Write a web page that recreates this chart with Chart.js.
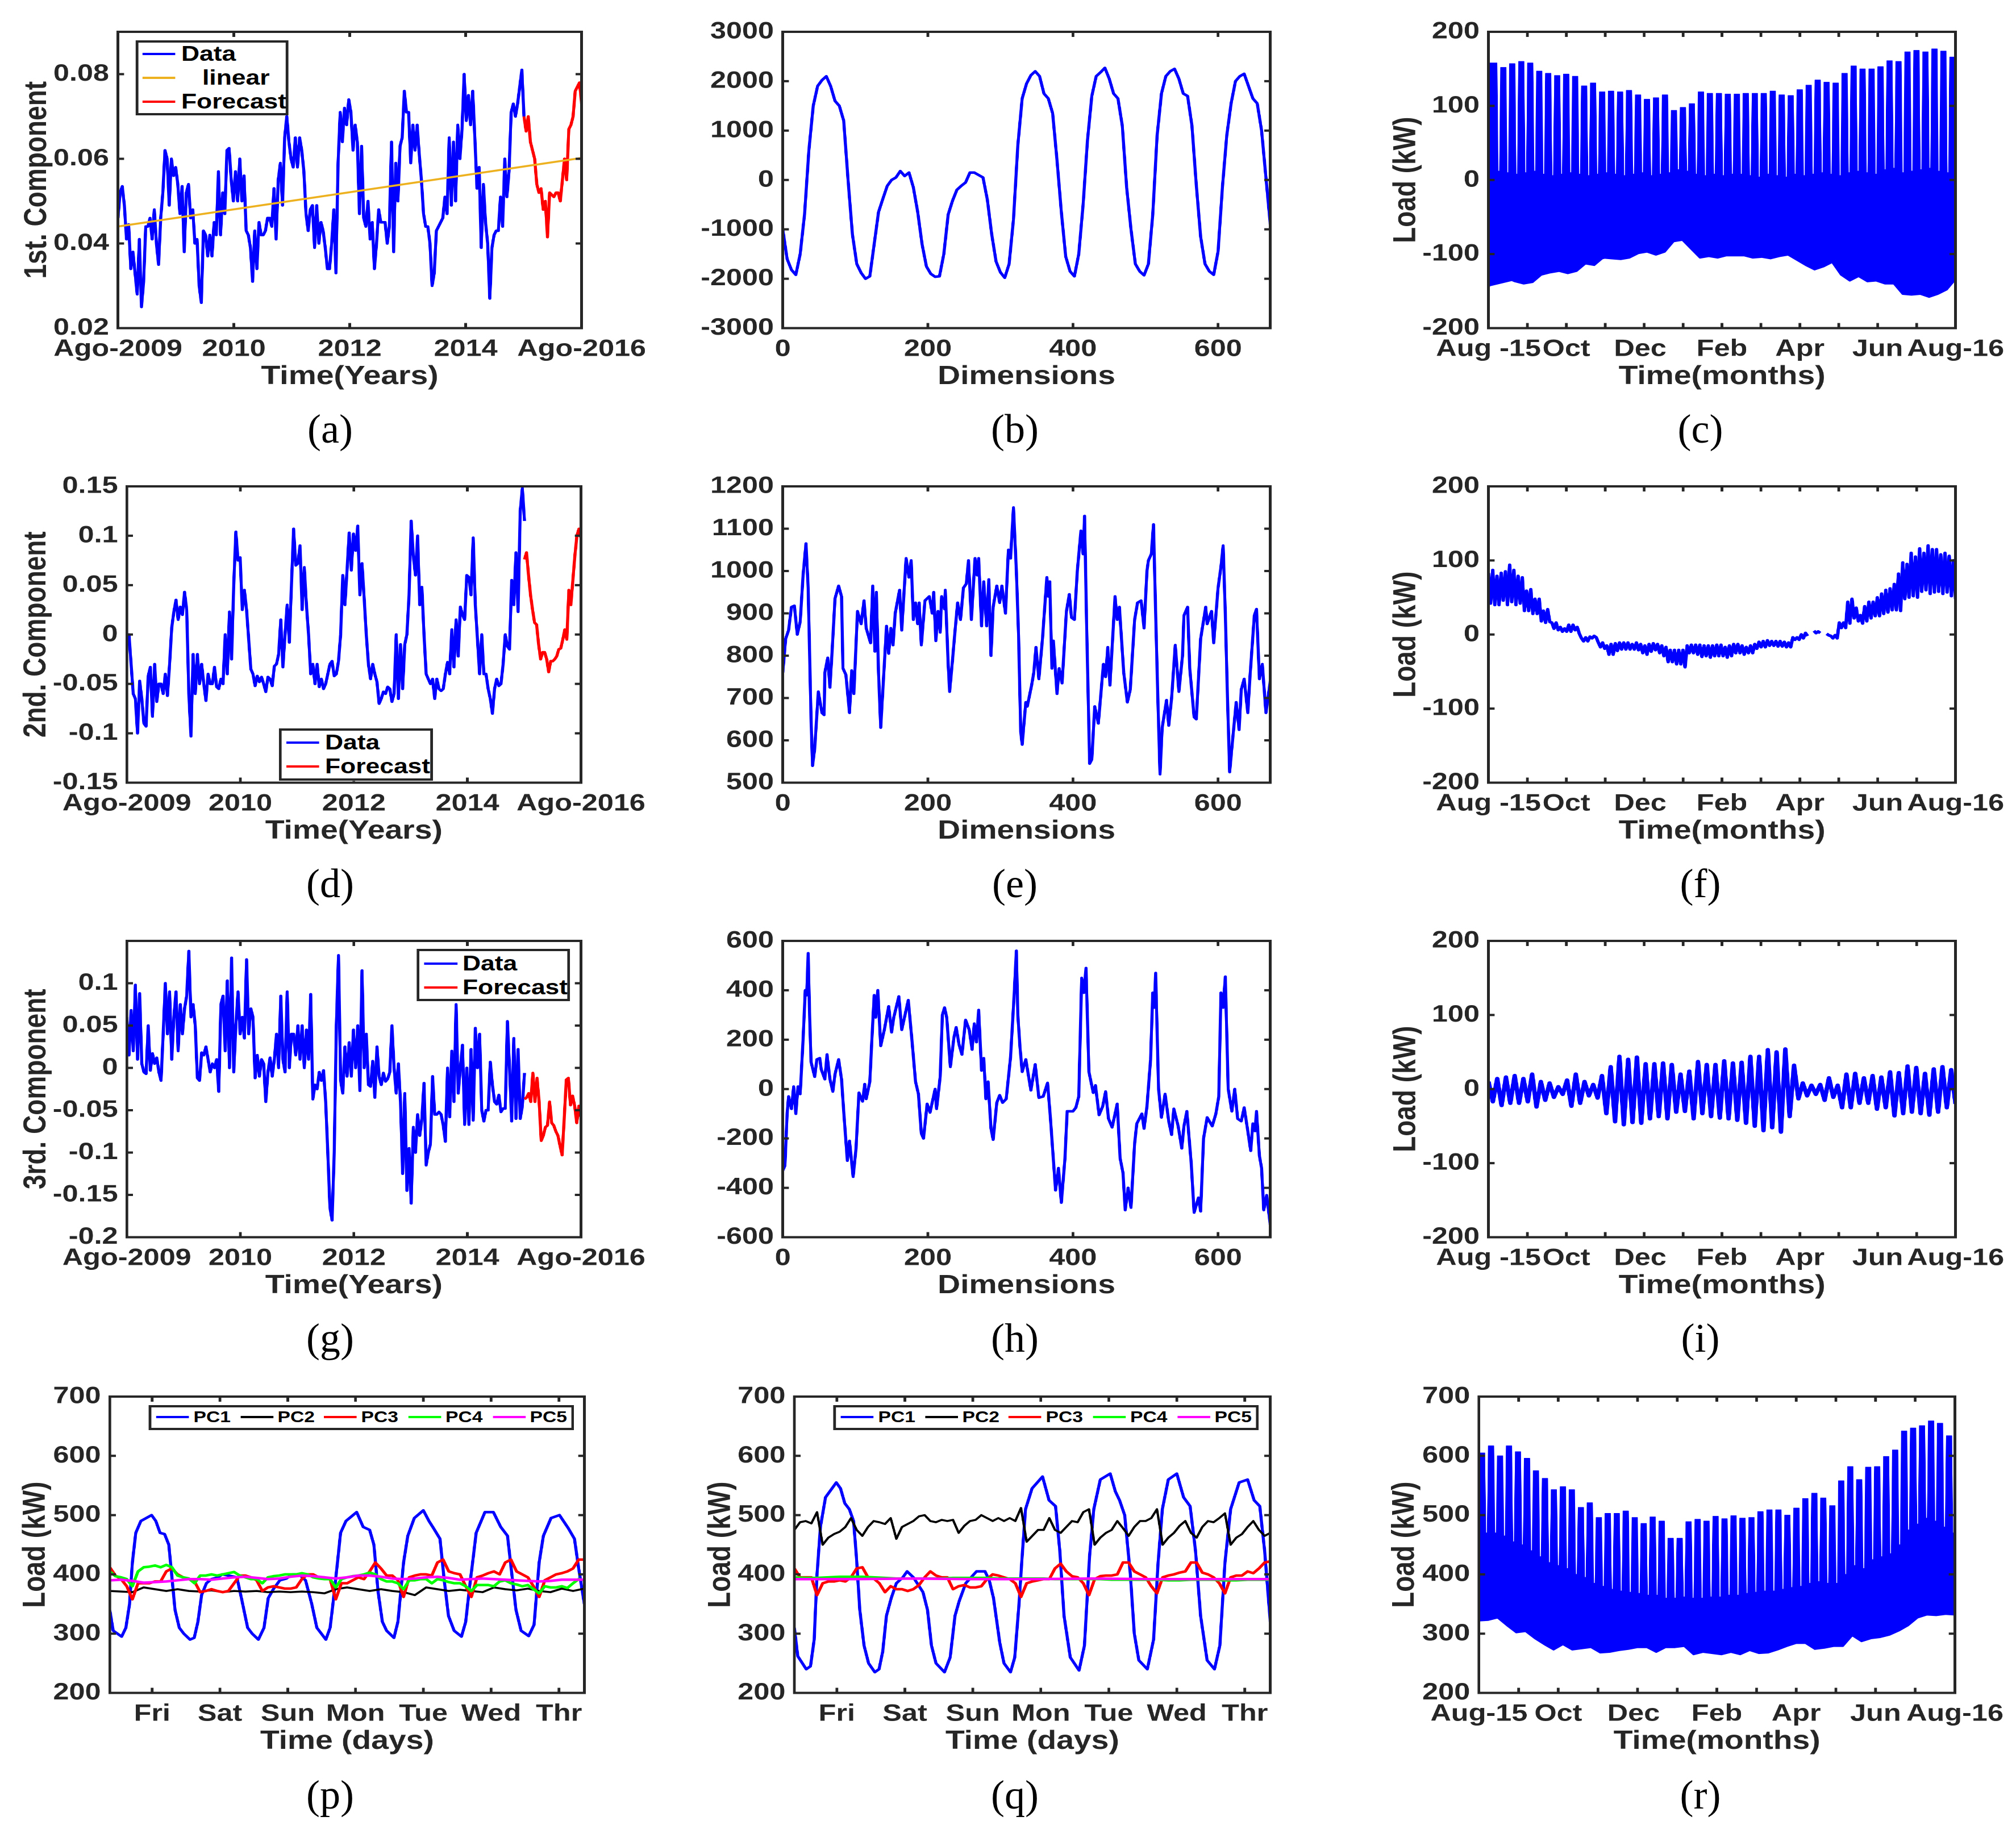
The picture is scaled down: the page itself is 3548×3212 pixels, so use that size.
<!doctype html>
<html lang="en">
<head>
<meta charset="UTF-8" />
<title>Load components</title>
<script src="https://cdn.jsdelivr.net/npm/chart.js"></script>
<style>
  body { margin: 0; background: #fff; overflow: hidden; }
  #stretch { position: absolute; left: 0; top: 0; width: 2957px; height: 3212px; transform: scaleX(1.2); transform-origin: 0 0; }
  canvas { position: absolute; }
  .legend { position: absolute; border: 4px solid #262626; box-sizing: border-box; background: #fff; z-index: 1; }
  .swatch { position: absolute; height: 4px; z-index: 2; }
  .entry { position: absolute; z-index: 2; font: bold 37px "Liberation Sans", sans-serif; color: #000; white-space: pre; transform: translateY(-50%); }
  .pc { font-size: 28px; }
  .caption { position: absolute; font: 72px "Liberation Serif", serif; color: #000; transform: translate(-50%, -50%); }
</style>
</head>
<body>
<div id="stretch"></div>
<script>
// axis labels
const yearTicks = [0, 1.75, 3.5, 5.25, 7];
const yearLabels = ["Ago-2009", "2010", "2012", "2014", "Ago-2016"];
const monthTicks = [0, 1, 2, 3, 4, 5, 6, 7, 8, 9, 10, 11, 12];
const monthLabels = ["Aug -15", "", "Oct", "", "Dec ", "", "Feb", "", "Apr", "", "Jun", "", "Aug-16"];
const monthLabelsR = ["Aug-15", "", "Oct", "", "Dec ", "", "Feb", "", "Apr", "", "Jun", "", "Aug-16"];
const dimTicks = [0, 200, 400, 600];
const dayTicks = [15, 39, 63, 87, 111, 135, 159];
const dayLabels = ["Fri", "Sat", "Sun", "Mon", "Tue", "Wed", "Thr"];

// (a) 1st component
const compOneData = [
  .046,.052,.0535,.049,.041,.0445,.034,.038,.033,.028,.041,.025,.031,.044,.044,.046,.041,.048,.040,.035,
  .046,.052,.062,.060,.049,.060,.056,.058,.054,.047,.0535,.038,.052,.054,.046,.048,.040,.041,.030,.026,
  .043,.042,.037,.042,.037,.045,.042,.057,.042,.052,.047,.062,.0625,.055,.050,.057,.050,.060,.050,.056,
  .043,.042,.039,.031,.043,.034,.045,.042,.042,.043,.046,.046,.044,.053,.041,.055,.059,.049,.065,.070,
  .064,.060,.058,.065,.058,.065,.062,.057,.047,.043,.048,.049,.039,.049,.040,.045,.043,.039,.034,.034,
  .040,.048,.033,.059,.071,.064,.072,.068,.074,.071,.062,.068,.064,.047,.063,.046,.044,.050,.041,.045,
  .034,.040,.048,.045,.045,.045,.040,.044,.064,.038,.059,.050,.063,.065,.076,.071,.071,.059,.068,.062,
  .068,.061,.055,.047,.044,.044,.040,.030,.033,.043,.044,.045,.046,.051,.047,.065,.049,.064,.050,.068,
  .060,.067,.080,.069,.075,.068,.076,.065,.053,.058,.039,.054,.045,.040,.027,.039,.042,.043,.043,.051,
  .044,.060,.051,.057,.071,.073,.070,.073,.077,.081,.070];
const compOneForecast = [.070,.0665,.070,.064,.062,.060,.054,.052,.053,.048,.050,.0415,.052,.0515,.051,.052,.052,.050,.055,.060,.055,.067,.068,.070,.076,.077,.078,.073];
const compOneTrend = [.044, .0602];

// (d) 2nd component
const compTwoData = [
  -.01,0,-.03,-.06,-.065,-.10,-.047,-.065,-.09,-.093,-.042,-.033,-.083,-.03,-.068,-.05,-.05,-.06,-.04,-.062,
  -.03,.007,.023,.035,.015,.028,.02,.043,.025,-.06,-.103,-.02,-.06,-.02,-.05,-.03,-.05,-.067,-.04,-.05,
  -.05,-.033,-.053,-.055,-.045,-.05,0,-.04,.023,-.025,.05,.104,.075,.078,.025,.045,.025,-.005,-.035,-.04,
  -.052,-.042,-.048,-.043,-.05,-.058,-.043,-.045,-.052,-.032,-.03,-.02,.015,-.033,0,.03,-.008,.05,.107,.07,
  .072,.09,.025,.068,.03,0,-.04,-.03,-.05,-.03,-.053,-.045,-.055,-.05,-.04,-.03,-.027,-.042,-.04,-.027,
  0,.06,.03,.065,.103,.065,.102,.085,.11,.04,.072,.037,0,-.03,-.045,-.03,-.04,-.048,-.07,-.065,
  -.058,-.06,-.053,-.055,-.068,-.06,0,-.065,-.01,-.055,-.01,0,.04,.115,.08,.06,.1,.03,.048,0,
  -.04,-.045,-.05,-.045,-.065,-.045,-.055,-.057,-.055,-.04,-.028,-.04,.005,-.033,.015,-.022,.028,.02,.015,.06,
  .058,.04,.098,.03,-.005,-.04,0,-.04,-.04,-.055,-.065,-.08,-.055,-.045,-.052,-.05,-.03,0,-.012,-.015,
  .055,.03,.083,.023,.125,.148,.115];
const compTwoForecast = [.076,.083,.06,.04,.025,.012,.01,-.01,-.025,-.018,-.018,-.025,-.038,-.027,-.027,-.025,-.022,-.015,-.014,-.005,.005,-.005,.045,.03,.055,.08,.1,.107,.098];

// (g) 3rd component
const compThreeData = [
  .06,.015,.068,.02,.098,.01,.088,.005,-.005,-.007,.05,-.003,.017,.005,.012,-.005,-.015,.04,.10,.04,
  .09,.01,.06,.09,.02,.075,.04,.07,.085,.138,.06,.075,.05,-.012,-.015,.018,.015,.025,.01,-.005,
  .005,0,.01,-.028,.075,.085,.02,.103,0,.13,-.005,.05,.09,.04,.06,.035,.128,.04,.07,.06,
  -.012,.015,-.01,.01,.005,-.04,-.005,.012,-.01,.01,.04,0,.085,.01,-.005,.09,0,.04,.04,.015,
  .05,.01,.05,0,.045,.01,.087,-.037,-.02,-.025,-.005,-.015,-.003,-.04,-.10,-.165,-.18,-.10,.05,.133,
  -.015,-.03,.025,-.01,.03,-.01,.045,0,.05,-.027,.115,0,.04,-.02,-.022,.008,-.035,.025,-.01,-.02,
  -.006,-.016,-.013,-.005,.05,0,-.03,.005,-.04,-.125,-.03,-.145,-.095,-.16,-.07,-.10,-.055,-.08,-.06,-.018,
  -.115,-.10,-.09,-.01,-.055,-.055,-.052,-.055,-.068,-.087,0,-.058,.02,-.04,.075,-.03,0,.027,-.067,0,
  -.067,.022,-.062,.047,0,.04,-.05,-.063,-.05,-.05,.007,-.02,-.04,-.043,-.032,-.052,-.048,-.048,.055,0,
  -.063,.035,-.06,.022,-.06,-.045,-.006];
const compThreeForecast = [-.037,-.035,-.03,-.04,-.006,-.04,-.012,-.04,-.086,-.08,-.07,-.068,-.04,-.065,-.068,-.075,-.08,-.092,-.103,-.06,-.014,-.012,-.044,-.033,-.045,-.065,-.045,-.058];

// (b) first loading vector
const loadOneDims = [];
for (let d = 0; d <= 672; d += 6) loadOneDims.push(d);
const loadOneValues = [-1000,-1600,-1820,-1920,-1500,-700,600,1500,1900,2020,2100,1900,1600,1500,1200,0,-1100,-1700,-1880,-2000,-1950,-1300,-650,-380,-120,0,50,180,80,150,-150,-650,-1300,-1750,-1900,-1960,-1950,-1500,-700,-420,-200,-120,-50,150,150,100,50,-400,-1100,-1650,-1870,-1980,-1700,-800,700,1650,1950,2120,2200,2100,1750,1650,1350,400,-650,-1550,-1850,-1950,-1500,-500,800,1700,2100,2180,2270,2050,1750,1650,1100,-150,-1000,-1700,-1850,-1930,-1700,-700,900,1750,2100,2200,2250,2050,1750,1700,1100,-100,-1150,-1700,-1850,-1920,-1450,-150,900,1550,2000,2100,2150,1900,1650,1550,1000,50,-900];

// (e) second loading vector
const loadTwoDims = [0,4,8,12,16,20,24,28,32,35,39,41,44,49,54,57,58,62,65,68,72,77,81,83,87,92,95,98,103,108,112,115,121,124,127,129,132,135,139,143,146,149,152,155,161,164,170,174,177,180,183,186,188,191,196,202,206,208,211,214,217,219,223,224,228,230,234,237,241,245,249,253,256,260,265,268,270,274,277,281,284,287,290,295,299,302,307,311,314,318,322,325,328,330,335,337,343,346,349,353,358,364,366,368,371,373,378,381,385,391,395,398,402,406,411,414,416,419,423,426,430,435,442,445,448,451,458,461,464,470,475,479,485,489,494,498,502,504,508,511,514,517,520,523,529,532,536,541,546,551,553,558,561,567,570,576,583,585,591,594,600,604,607,610,613,616,620,625,629,632,636,641,644,650,653,657,661,666,672];
const loadTwoValues = [760,840,860,915,918,850,880,990,1065,960,650,540,580,715,665,660,760,795,725,810,935,965,940,770,755,665,765,710,905,875,930,865,830,965,810,950,760,630,750,870,805,865,825,900,955,860,1030,985,1025,885,925,875,925,825,930,940,900,950,835,905,855,940,910,955,780,715,790,850,925,885,960,970,1025,885,1030,990,1030,870,975,870,980,800,915,965,925,965,900,1050,1030,1150,1000,850,620,590,690,680,730,760,820,745,840,985,940,975,770,835,710,770,735,905,945,890,885,1000,1095,1040,1130,860,545,555,680,640,780,750,820,730,940,885,915,760,690,720,885,925,930,865,1000,1025,1040,1110,900,700,520,630,695,635,700,825,715,800,895,915,770,655,650,840,915,875,905,830,960,1010,1060,900,700,525,600,690,625,720,745,665,750,895,910,745,780,665,740];

// (h) third loading vector
const loadThreeDims = [0,3,6,8,12,15,18,21,24,28,31,33,35,37,39,44,47,51,53,58,61,65,69,72,77,81,84,89,92,97,101,105,110,113,115,120,123,126,128,131,135,140,146,150,153,160,164,170,173,178,183,187,191,194,199,203,210,212,217,220,223,226,231,236,239,243,247,252,257,261,264,267,270,274,277,280,283,287,290,295,299,303,308,314,319,322,324,327,330,335,342,348,353,359,365,369,376,380,384,389,392,400,404,408,412,415,418,422,428,431,436,441,445,449,454,461,465,469,472,476,480,485,488,495,498,502,507,510,512,514,518,522,527,532,536,539,545,550,553,557,563,567,573,576,580,585,592,597,601,604,607,610,614,619,623,627,632,636,641,645,648,651,653,657,660,663,667,672];
const loadThreeValues = [-330,-310,-100,-30,-80,10,-100,10,-20,200,400,380,550,300,110,50,120,125,80,40,140,40,-10,60,120,40,-90,-290,-210,-355,-240,-15,-50,20,-40,30,210,380,290,400,175,240,335,230,290,375,240,320,360,200,30,-20,-180,-200,-60,-95,0,-80,50,300,330,290,90,210,250,180,140,280,240,160,265,190,320,75,125,-40,30,-160,-205,-55,-25,-55,-40,130,385,560,300,170,70,120,-5,100,-35,-30,25,-120,-410,-320,-460,-280,-90,-90,-75,-30,450,390,490,70,-15,15,-105,-70,-10,-120,-155,-60,-280,-340,-490,-400,-480,-220,-140,-100,-160,-70,120,390,330,470,0,-115,-20,-130,-185,-80,-150,-240,-150,-90,-300,-500,-440,-495,-200,-115,-150,-100,-30,390,330,455,0,-90,0,-120,-130,-75,-170,-250,-140,-170,-90,-270,-320,-490,-430,-550];

// (c) first reconstructed load, stripe tops, slit bottoms and lower edge
const reconOnePeaks = [158,152,157,160,158,147,144,141,143,140,127,131,119,120,119,121,115,109,111,115,94,98,103,119,117,117,116,116,117,117,117,120,115,114,122,128,135,132,131,144,154,150,150,153,161,160,173,175,173,177,174,166];
const reconOneSlits = [12,10,8,10,12,8,6,8,10,8,6,8,10,8,6,8,10,6,8,10,14,12,8,6,8,6,8,8,6,4,8,6,4,8,6,8,10,8,6,10,12,10,8,14,16,10,12,14,16,12,10,8];
const reconOneLows = [-144,-133,-132,-137,-140,-138,-128,-125,-123,-126,-123,-113,-115,-105,-106,-107,-105,-99,-97,-101,-97,-83,-81,-93,-105,-103,-105,-102,-102,-102,-105,-104,-106,-103,-101,-108,-115,-121,-117,-111,-128,-136,-130,-137,-136,-140,-140,-154,-155,-154,-158,-154,-148,-134];

// (f) second reconstructed load, band edges
const reconTwoHigh = [83,87,79,83,85,94,87,79,77,59,61,48,48,32,34,16,16,10,8,13,13,10,-5,-4,-3,-2,-11,-11,-15,-13,-12,-11,-11,-11,-13,-11,-13,-15,-13,-12,-13,-15,-17,-21,-21,-21,-21,-15,-14,-14,-14,-15,-15,-15,-14,-14,-17,-15,-13,-13,-15,-17,-15,-13,-10,-9,-8,-9,-9,-9,-10,-11,-4,-4,0,2,null,5,4,null,1,-2,-1,16,16,44,48,36,26,38,44,44,50,55,60,62,68,82,97,95,110,105,116,110,120,115,115,108,110,106,100];
const reconTwoLow = [42,40,40,46,40,44,40,42,32,32,28,28,18,16,17,8,6,4,4,4,6,1,-9,-9,-5,-4,-17,-19,-27,-27,-22,-20,-20,-20,-20,-21,-25,-27,-23,-21,-25,-29,-37,-37,-40,-40,-44,-25,-25,-27,-30,-29,-31,-29,-29,-29,-31,-29,-25,-25,-27,-25,-25,-19,-17,-17,-15,-15,-16,-16,-17,-17,-7,-7,-5,-2,null,2,2,null,-1,-5,-5,9,9,15,22,18,15,18,22,25,25,28,30,33,33,32,48,50,52,50,58,60,55,57,58,55,57,52,48];

// (i) third reconstructed load, stripe tops and bottoms
const reconThreeHigh = [10,14,16,18,14,20,10,8,3,12,20,10,6,18,30,44,40,43,34,34,35,33,20,24,37,33,33,38,35,36,44,44,53,50,54,32,8,5,6,15,5,20,21,15,18,16,23,22,31,29,21,27,30,26];
const reconThreeLow = [-17,-22,-19,-19,-17,-24,-15,-11,-7,-23,-19,-9,-12,-33,-44,-48,-45,-46,-40,-37,-40,-31,-30,-40,-33,-37,-39,-40,-42,-46,-50,-56,-52,-58,-37,-13,-9,-7,-15,-11,-25,-25,-19,-19,-27,-25,-36,-33,-31,-33,-35,-31,-25,-20];

// (p) principal components, raw load
const pcHoursP = [0,1.2,4.2,5.7,7,8,9.2,11,14.8,16.3,17.8,19.4,20.9,21.9,23.1,24.6,26.2,28.4,29.9,31.2,32.5,34.2,36,38.3,39.8,42,45,46.6,48.8,50.4,52.6,54.6,56.1,57.9,60.2,62.5,64.7,67,69.3,71.5,73.3,74.9,76.5,78,79,80.6,81.7,83.6,87.4,89.7,92,93.5,95,96.5,98,100.6,102,104,105.5,107.8,111,113,114.6,116.9,118.4,119.9,121.9,124.5,126,127.4,128.7,129.7,132.8,135.8,138.4,140.8,142.1,143.8,145.6,148.3,150.2,152,153.5,156.2,159.2,162.3,164.5,166,168];
const pc1P = [340,305,295,310,350,420,470,490,500,490,470,468,450,400,340,310,300,290,293,320,365,385,392,395,400,398,395,360,310,300,290,310,360,375,390,393,400,400,390,350,310,300,290,310,350,420,470,490,505,480,475,450,370,320,305,293,320,420,465,495,508,490,478,460,390,330,305,295,320,380,430,470,505,505,480,465,410,340,305,296,315,420,465,495,500,478,460,410,350];
const pc2P = [372,371,370,378,375,372,375,372,371,373,370,372,371,372,370,371,370,371,370,368,375,378,375,372,375,372,370,365,378,375,372,374,372,370,378,375,373,376,372,370,376,372,376];
const pc3P = [412,398,392,380,358,385,385,385,388,388,405,410,400,395,392,388,370,372,375,372,370,372,385,398,398,395,390,372,378,380,378,376,376,378,392,400,400,395,395,392,358,385,385,390,395,392,405,420,410,398,398,390,362,395,398,400,400,398,420,425,405,402,400,380,362,395,398,402,405,400,420,425,405,400,395,380,362,390,395,400,402,405,410,425,425];
const pc4P = [405,397,395,392,380,405,412,413,415,412,416,412,398,395,393,385,398,398,400,398,400,402,404,398,395,392,392,385,395,397,398,400,400,400,402,400,395,393,392,392,378,392,395,397,398,400,403,400,392,388,388,385,375,390,390,392,392,385,392,390,387,385,385,380,372,382,382,382,380,388,390,385,383,380,382,375,368,380,378,378,380,377,385,392,390];
const pc5P = [390,391,389,386,387,388,390,392,392,391,393,395,396,394,392,393,396,398,397,395,393,395,398,398,396,393,392,393,395,396,394,391,392,393,392,391,390,389,388,389,391,391,391];

// (q) principal components, cleaned load
const pcHoursQ = [0,1.2,4.2,5.7,7,8,9.2,11,14.8,16.3,17.8,19.4,20.9,21.9,23.1,24.6,26.2,28.4,29.9,31.2,32.5,34.2,36,38.3,39.8,42,45.4,47,48.4,50,53,55,56.7,58.2,60.5,64.3,67.3,68.8,70.3,72.5,74,76.3,77.8,79.3,80.4,81.6,83.9,87.6,89.9,92.2,93.7,95.2,97.4,100.5,102.4,104.2,105.7,108,111.5,113.3,114.8,116.6,118.6,120,121.6,124.6,126.8,128.4,129.9,132,135,137.4,139.7,141.6,143.4,145.7,148.3,150.2,152,154,157,160,162.3,164.3,166,168];
const pc1Q = [310,262,240,245,290,400,480,530,555,545,520,510,490,430,340,280,250,235,240,270,330,360,385,395,405,395,370,340,280,250,235,260,330,355,385,405,405,390,360,285,250,235,260,350,430,510,545,565,525,515,440,330,260,238,280,430,510,560,570,540,525,500,400,300,255,240,290,420,510,560,570,530,515,440,330,255,240,280,420,510,555,560,525,515,440,320];
const pc2Q = [475,488,490,486,505,450,462,468,472,480,495,475,465,480,490,488,485,495,460,480,485,490,498,500,490,488,492,490,492,470,482,490,492,500,495,490,495,490,495,490,512,455,465,475,475,495,475,470,480,490,488,505,510,450,462,470,475,490,478,465,480,490,490,495,510,450,462,470,482,490,470,462,480,490,488,495,503,450,462,468,480,490,475,465,470];
const pc3Q = [410,395,395,395,365,385,388,388,390,388,395,410,412,395,393,385,370,380,375,375,372,375,382,395,405,398,395,395,375,380,382,378,378,380,392,400,398,395,392,385,362,385,388,390,392,392,410,418,405,397,395,385,365,392,397,398,398,400,420,420,405,400,395,380,368,395,398,400,403,405,420,420,403,400,395,385,368,395,398,398,405,402,410,420,422];
const pc4Q = [395,394,394,395,396,396,396,395,394,393,393,393,393,393,394,394,394,394,393,393,393,393,393,392,392,392,392,392,391,391,391,391,391,390,390,391,391,391,390,390,391,391,391];
const pc5Q = [392,392,393,392,392,393,392,392,392];

// (r) forecast load, stripe tops, slit bottoms and lower edge
const reconAllPeaks = [605,617,600,617,607,596,575,562,543,548,543,513,521,496,503,503,507,496,486,497,490,461,461,489,493,490,498,494,499,495,496,506,509,509,500,512,528,537,529,516,558,582,560,581,582,599,610,642,647,651,659,655,634];
const reconAllSlits = [470,470,465,455,450,440,430,420,415,410,400,395,385,380,375,372,370,368,365,365,360,360,362,360,360,362,362,365,365,368,370,372,372,375,378,380,385,388,385,385,400,415,410,425,430,435,450,475,485,495,490,480,470];
const reconAllLows = [322,323,327,314,302,304,292,282,273,282,273,275,277,268,269,272,274,277,277,269,277,277,279,265,269,267,265,269,265,272,267,268,273,279,284,284,274,276,279,279,297,287,292,294,298,305,314,327,332,331,333,332];

const SX = 1.2; // the original figure is stretched sideways
const INK = "#262626";
const BLUE = "#0000ff", RED = "#ff0000", GREEN = "#00ff00", MAGENTA = "#ff00ff", ORANGE = "#edb120";
const TOP_MARGIN = 40, RIGHT_MARGIN = 140, X_AXIS_HEIGHT = 113.5;

// points spaced evenly between two x values
function evenly(values, from, to) {
  return values.map((y, i) => ({ x: from + (i * (to - from)) / (values.length - 1), y }));
}

function paired(xs, ys) {
  return ys.map((y, i) => ({ x: xs[i], y }));
}

// flat topped stripes separated by narrow slits
function stripes(peaks, slits, span, shift) {
  const step = span / peaks.length;
  const pts = [{ x: 0, y: peaks[0] }];
  peaks.forEach((p, i) => {
    const c = (i + shift) * step;
    pts.push({ x: c - 0.3 * step, y: p }, { x: c + 0.3 * step, y: p }, { x: c + 0.42 * step, y: slits[i] }, { x: c + 0.58 * step, y: slits[i] });
  });
  pts.push({ x: span, y: peaks[peaks.length - 1] });
  return pts;
}

// one line running up and down between the two edges
function zigzag(high, low, span) {
  const vals = [];
  high.forEach((h, i) => vals.push(h, low[i]));
  return evenly(vals, 0, span);
}

function line(data, color, width) {
  return { data, borderColor: color, backgroundColor: color, borderWidth: width || 4.5, borderJoinStyle: "round", pointRadius: 0, tension: 0, fill: false };
}

const YEARS_END = 6.13;
const rowTops = [56, 855.6, 1656, 2458];
const rowHeight = 521.5;

const panels = [
  { rect: [207, 1023], row: 0, gap: 119, yTitle: "1st. Component", xTitle: "Time(Years)", yMin: 0.02, yMax: 0.09, yTicks: [0.02, 0.04, 0.06, 0.08], xMax: 7, xTicks: yearTicks, xLabels: yearLabels,
    series: [line(evenly(compOneData, 0, YEARS_END), BLUE), line(evenly(compOneForecast, YEARS_END, 7), RED), line(evenly(compOneTrend, 0, 7), ORANGE, 3.5)] },
  { rect: [1377, 2236], row: 0, gap: 123, xTitle: "Dimensions", yMin: -3000, yMax: 3000, yTicks: [-3000, -2000, -1000, 0, 1000, 2000, 3000], xMax: 672, xTicks: dimTicks, xLabels: dimTicks.map(String),
    series: [line(paired(loadOneDims, loadOneValues), BLUE)] },
  { rect: [2619, 3441], row: 0, gap: 121, yTitle: "Load (kW)", xTitle: "Time(months)", yMin: -200, yMax: 200, yTicks: [-200, -100, 0, 100, 200], xMax: 12, xTicks: monthTicks, xLabels: monthLabels,
    series: [Object.assign(line(stripes(reconOnePeaks, reconOneSlits, 12, 0.65), BLUE, 1), { fill: "+1" }), line(evenly(reconOneLows, 0, 12), BLUE, 3)] },

  { rect: [223, 1023], row: 1, gap: 133, yTitle: "2nd. Component", xTitle: "Time(Years)", yMin: -0.15, yMax: 0.15, yTicks: [-0.15, -0.1, -0.05, 0, 0.05, 0.1, 0.15], xMax: 7, xTicks: yearTicks, xLabels: yearLabels,
    series: [line(evenly(compTwoData, 0, YEARS_END), BLUE), line(evenly(compTwoForecast, YEARS_END, 7), RED)] },
  { rect: [1377, 2236], row: 1, gap: 123, xTitle: "Dimensions", yMin: 500, yMax: 1200, yTicks: [500, 600, 700, 800, 900, 1000, 1100, 1200], xMax: 672, xTicks: dimTicks, xLabels: dimTicks.map(String),
    series: [line(paired(loadTwoDims, loadTwoValues), BLUE)] },
  { rect: [2619, 3441], row: 1, gap: 121, yTitle: "Load (kW)", xTitle: "Time(months)", yMin: -200, yMax: 200, yTicks: [-200, -100, 0, 100, 200], xMax: 12, xTicks: monthTicks, xLabels: monthLabels,
    series: [line(zigzag(reconTwoHigh, reconTwoLow, 12), BLUE, 5)] },

  { rect: [223, 1023], row: 2, gap: 133, yTitle: "3rd. Component", xTitle: "Time(Years)", yMin: -0.2, yMax: 0.15, yTicks: [-0.2, -0.15, -0.1, -0.05, 0, 0.05, 0.1], xMax: 7, xTicks: yearTicks, xLabels: yearLabels,
    series: [line(evenly(compThreeData, 0, YEARS_END), BLUE), line(evenly(compThreeForecast, YEARS_END, 7), RED)] },
  { rect: [1377, 2236], row: 2, gap: 123, xTitle: "Dimensions", yMin: -600, yMax: 600, yTicks: [-600, -400, -200, 0, 200, 400, 600], xMax: 672, xTicks: dimTicks, xLabels: dimTicks.map(String),
    series: [line(paired(loadThreeDims, loadThreeValues), BLUE)] },
  { rect: [2619, 3441], row: 2, gap: 121, yTitle: "Load (kW)", xTitle: "Time(months)", yMin: -200, yMax: 200, yTicks: [-200, -100, 0, 100, 200], xMax: 12, xTicks: monthTicks, xLabels: monthLabels,
    series: [line(zigzag(reconThreeHigh, reconThreeLow, 12), BLUE, 6.5)] },

  { rect: [193, 1029], row: 3, gap: 109, yTitle: "Load (kW)", xTitle: "Time (days)", yMin: 200, yMax: 700, yTicks: [200, 300, 400, 500, 600, 700], xMax: 168, xTicks: dayTicks, xLabels: dayLabels,
    series: [line(paired(pcHoursP, pc1P), BLUE), line(evenly(pc2P, 0, 168), "#000", 3.5), line(evenly(pc3P, 0, 168), RED), line(evenly(pc4P, 0, 168), GREEN), line(evenly(pc5P, 0, 168), MAGENTA)] },
  { rect: [1397.5, 2236], row: 3, gap: 108, yTitle: "Load (kW)", xTitle: "Time (days)", yMin: 200, yMax: 700, yTicks: [200, 300, 400, 500, 600, 700], xMax: 168, xTicks: dayTicks, xLabels: dayLabels,
    series: [line(paired(pcHoursQ, pc1Q), BLUE), line(evenly(pc2Q, 0, 168), "#000", 3.5), line(evenly(pc3Q, 0, 168), RED), line(evenly(pc4Q, 0, 168), GREEN), line(evenly(pc5Q, 0, 168), MAGENTA)] },
  { rect: [2603, 3441], row: 3, gap: 109, yTitle: "Load (kW)", xTitle: "Time(months)", yMin: 200, yMax: 700, yTicks: [200, 300, 400, 500, 600, 700], xMax: 12, xTicks: monthTicks, xLabels: monthLabelsR,
    series: [Object.assign(line(stripes(reconAllPeaks, reconAllSlits, 12, 0.35), BLUE, 1), { fill: "+1" }), line(evenly(reconAllLows, 0, 12), BLUE, 3)] }
];

// MATLAB style box with ticks pointing inwards on all four sides
const boxTicks = {
  id: "boxTicks",
  afterDraw(chart) {
    const { ctx, chartArea: a, scales } = chart;
    ctx.save();
    ctx.strokeStyle = INK;
    ctx.lineWidth = 4;
    ctx.beginPath();
    scales.x.ticks.forEach(t => {
      const px = scales.x.getPixelForValue(t.value);
      ctx.moveTo(px, a.bottom); ctx.lineTo(px, a.bottom - 9);
      ctx.moveTo(px, a.top); ctx.lineTo(px, a.top + 9);
    });
    scales.y.ticks.forEach(t => {
      const py = scales.y.getPixelForValue(t.value);
      ctx.moveTo(a.left, py); ctx.lineTo(a.left + 9, py);
      ctx.moveTo(a.right, py); ctx.lineTo(a.right - 9, py);
    });
    ctx.stroke();
    ctx.strokeRect(a.left, a.top, a.right - a.left, a.bottom - a.top);
    ctx.restore();
  }
};

const stage = document.getElementById("stretch");
const tickFont = { family: "Liberation Sans", size: 42, weight: "bold" };
const titleFont = { family: "Liberation Sans", size: 46, weight: "bold" };

panels.forEach(p => {
  const left = p.rect[0] / SX, right = p.rect[1] / SX;
  const top = rowTops[p.row];
  const leftMargin = p.gap + 27;
  const canvas = document.createElement("canvas");
  canvas.width = leftMargin + (right - left) + RIGHT_MARGIN;
  canvas.height = TOP_MARGIN + rowHeight + X_AXIS_HEIGHT;
  canvas.style.left = left - leftMargin + "px";
  canvas.style.top = top - TOP_MARGIN + "px";
  stage.appendChild(canvas);

  p.series.forEach((s, i) => { s.order = p.series.length - i; });

  new Chart(canvas, {
    type: "line",
    data: { datasets: p.series },
    plugins: [boxTicks],
    options: {
      responsive: false,
      animation: false,
      devicePixelRatio: 2,
      layout: { padding: { top: TOP_MARGIN, right: RIGHT_MARGIN, left: 0, bottom: 0 } },
      plugins: { legend: { display: false }, tooltip: { enabled: false } },
      scales: {
        x: {
          type: "linear",
          min: 0,
          max: p.xMax,
          afterBuildTicks: axis => { axis.ticks = p.xTicks.map(value => ({ value })); },
          afterFit: axis => { axis.height = X_AXIS_HEIGHT; },
          grid: { display: false, drawTicks: false },
          border: { display: false },
          ticks: { autoSkip: false, maxRotation: 0, minRotation: 0, padding: 12, color: INK, font: tickFont, callback: (v, i) => p.xLabels[i] },
          title: { display: true, text: p.xTitle, color: INK, font: titleFont, padding: 0 }
        },
        y: {
          min: p.yMin,
          max: p.yMax,
          afterBuildTicks: axis => { axis.ticks = p.yTicks.map(value => ({ value })); },
          afterFit: axis => { axis.width = leftMargin; },
          grid: { display: false, drawTicks: false },
          border: { display: false },
          ticks: { autoSkip: false, padding: 13, color: INK, font: tickFont, callback: v => String(v) },
          title: { display: !!p.yTitle, text: p.yTitle || "", color: INK, font: titleFont, padding: 0 }
        }
      }
    }
  });
});

// legends, positions in picture pixels
const legends = [
  { box: [238.5, 71, 508, 203], swatch: [250.5, 308.5], textX: 319, rows: [["Data", BLUE, 95], ["   linear", ORANGE, 137], ["Forecast", RED, 178.6]] },
  { box: [491, 1282, 761.5, 1374], swatch: [504, 562], textX: 572, rows: [["Data", BLUE, 1306.6], ["Forecast", RED, 1348.5]] },
  { box: [733.6, 1670, 1003, 1762], swatch: [746, 805], textX: 814, rows: [["Data", BLUE, 1696], ["Forecast", RED, 1738]] }
];
const pcNames = ["PC1", "PC2", "PC3", "PC4", "PC5"];
const pcColors = [BLUE, "#000", RED, GREEN, MAGENTA];
const pcSwatchLeft = [275, 423, 570, 718.6, 867];
const pcLegendShift = [0, 1205];

function addSwatch(x0, x1, y, color) {
  const s = document.createElement("div");
  s.className = "swatch";
  s.style.cssText = `left:${x0 / SX}px;width:${(x1 - x0) / SX}px;top:${y - 2}px;background:${color}`;
  stage.appendChild(s);
}

function addEntry(text, x, y, extra) {
  const e = document.createElement("div");
  e.className = "entry" + (extra ? " " + extra : "");
  e.style.left = x / SX + "px";
  e.style.top = y + "px";
  e.textContent = text;
  stage.appendChild(e);
}

function addBox(x0, y0, x1, y1) {
  const b = document.createElement("div");
  b.className = "legend";
  b.style.cssText = `left:${x0 / SX}px;top:${y0}px;width:${(x1 - x0) / SX}px;height:${y1 - y0}px`;
  stage.appendChild(b);
}

legends.forEach(l => {
  addBox(...l.box);
  l.rows.forEach(([text, color, y]) => {
    addSwatch(l.swatch[0], l.swatch[1], y, color);
    addEntry(text, l.textX, y);
  });
});

pcLegendShift.forEach(shift => {
  addBox(261 + shift, 2472.5, 1010 + shift, 2516.5);
  pcNames.forEach((name, i) => {
    addSwatch(pcSwatchLeft[i] + shift, pcSwatchLeft[i] + 57.6 + shift, 2494, pcColors[i]);
    addEntry(name, pcSwatchLeft[i] + 65.5 + shift, 2494, "pc");
  });
});

// sub-figure captions
const captionLetters = ["a", "b", "c", "d", "e", "f", "g", "h", "i", "p", "q", "r"];
const captionColumns = [581, 1786, 2992.5];
const captionRows = [755, 1555, 2355, 3159];
captionLetters.forEach((c, i) => {
  const d = document.createElement("div");
  d.className = "caption";
  d.textContent = "(" + c + ")";
  d.style.left = captionColumns[i % 3] + "px";
  d.style.top = captionRows[Math.floor(i / 3)] + "px";
  document.body.appendChild(d);
});
</script>
</body>
</html>
